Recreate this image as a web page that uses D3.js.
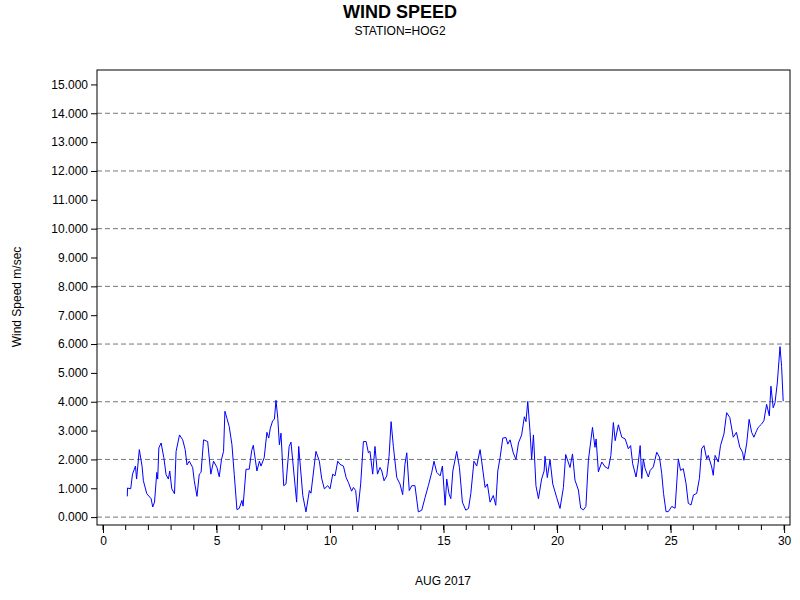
<!DOCTYPE html><html><head><script src="https://cdn.jsdelivr.net/npm/d3@7"></script>
<style>body{margin:0;background:#fff}</style></head><body><svg id="c" width="800" height="600"></svg><script>
const days=[1.07,1.08,1.22,1.3,1.43,1.48,1.6,1.72,1.78,1.93,2.12,2.19,2.27,2.37,2.41,2.46,2.56,2.68,2.78,2.88,2.94,3.03,3.15,3.22,3.37,3.51,3.62,3.7,3.8,3.95,4.02,4.14,4.24,4.32,4.43,4.61,4.75,4.87,5.02,5.12,5.22,5.31,5.37,5.46,5.56,5.68,5.78,5.9,6.0,6.12,6.17,6.3,6.44,6.55,6.62,6.78,6.89,6.96,7.1,7.22,7.3,7.37,7.47,7.55,7.62,7.7,7.77,7.84,7.96,8.06,8.2,8.28,8.42,8.53,8.62,8.8,8.94,9.09,9.16,9.38,9.53,9.63,9.75,9.9,10.0,10.12,10.22,10.34,
10.44,10.59,10.71,10.81,10.95,11.03,11.13,11.22,11.35,11.47,11.59,11.69,11.76,11.88,11.98,12.09,12.2,12.28,12.38,12.5,12.6,12.69,12.79,12.94,13.08,13.2,13.3,13.38,13.49,13.6,13.74,13.89,14.04,14.19,14.33,14.48,14.58,14.7,14.85,14.95,15.07,15.14,15.24,15.32,15.41,15.58,15.7,15.83,15.98,16.1,16.2,16.34,16.46,16.61,16.68,16.83,16.93,17.05,17.19,17.3,17.39,17.49,17.61,17.75,17.83,17.93,18.07,18.19,18.3,18.44,18.56,18.63,18.71,18.81,18.88,18.96,19.07,19.18,19.32,19.43,19.47,19.57,19.69,19.81,19.98,20.13,20.28,20.38,20.57,
20.68,20.79,20.94,21.04,21.16,21.27,21.38,21.56,21.67,21.72,21.82,21.97,22.12,22.26,22.37,22.48,22.56,22.7,22.85,23.0,23.14,23.24,23.33,23.48,23.58,23.66,23.73,23.8,23.88,24.02,24.1,24.24,24.39,24.51,24.61,24.69,24.8,24.9,25.05,25.2,25.34,25.44,25.56,25.68,25.78,25.9,26.01,26.15,26.27,26.37,26.47,26.59,26.66,26.81,26.88,26.96,27.1,27.2,27.35,27.47,27.61,27.76,27.9,28.05,28.17,28.23,28.35,28.46,28.57,28.67,28.79,28.86,29.0,29.11,29.23,29.35,29.42,29.52,29.6,29.7,29.82,29.89,29.96];
const speeds=[0.72,1.01,0.98,1.49,1.77,1.32,2.34,1.77,1.26,0.81,0.64,0.35,0.52,1.55,1.32,2.4,2.57,2.06,1.47,1.32,1.6,0.98,0.81,2.28,2.85,2.68,2.34,1.81,1.94,1.72,1.26,0.72,1.49,1.55,2.68,2.62,1.49,1.94,1.72,1.4,2.0,2.28,3.67,3.42,3.14,2.51,1.49,0.26,0.3,0.58,0.38,1.66,1.66,2.31,2.49,1.6,1.94,1.77,2.06,2.94,2.74,3.08,3.33,3.4,4.05,3.42,2.51,2.91,1.09,1.15,2.45,2.6,1.43,0.52,2.45,0.75,0.18,0.92,0.83,2.28,1.94,1.35,0.98,1.09,0.98,1.49,1.43,1.94,
1.83,1.77,1.37,1.2,0.9,1.03,0.92,0.18,1.15,2.62,2.62,2.23,2.28,1.49,2.45,1.49,1.72,1.6,1.26,1.43,2.11,3.31,2.45,1.37,1.15,0.78,1.83,2.23,0.92,1.09,1.09,0.18,0.24,0.69,1.09,1.55,1.94,1.55,1.43,1.77,0.41,1.32,0.81,0.64,1.6,2.28,1.72,0.52,0.24,0.3,0.81,1.94,1.77,2.34,1.94,1.03,1.15,0.52,0.75,0.41,1.6,2.06,2.74,2.76,2.53,2.68,2.23,2.0,2.57,2.85,3.48,3.31,4.01,2.97,2.0,2.85,1.09,0.64,1.32,1.6,2.11,1.37,2.0,1.15,0.69,0.3,1.03,2.17,1.72,
2.19,1.28,0.94,0.31,0.25,0.37,1.97,3.11,2.42,2.71,1.57,1.91,1.74,1.68,2.14,3.28,2.65,3.2,2.77,2.71,2.37,2.48,1.85,1.39,1.91,2.48,1.34,2.02,1.68,1.39,1.62,1.74,2.25,2.08,1.51,0.82,0.19,0.19,0.37,0.31,2.02,1.62,1.68,1.17,0.48,0.42,0.77,0.82,1.34,2.37,2.48,2.02,2.14,1.74,1.45,2.14,1.91,2.48,2.88,3.62,3.45,2.77,2.94,2.42,2.25,1.97,2.54,3.39,2.94,2.77,3.0,3.11,3.22,3.34,3.91,3.51,4.54,3.79,3.97,4.65,5.91,5.22,4.02];
const yTicks=d3.range(0,16);
const gridVals=d3.range(0,16,2);
const xTicks=[0,5,10,15,20,25,30];
const title="WIND SPEED", subtitle="STATION=HOG2", xLabel="AUG 2017", yLabel="Wind Speed m/sec";
const svg=d3.select("#c");
const L=97,R=790,T=70,B=525;
const x=d3.scaleLinear().domain([-0.264,30.26]).range([L,R]);
const y=d3.scaleLinear().domain([-0.273,15.5]).range([B,T]);
svg.append("text").attr("x",400).attr("y",18).attr("text-anchor","middle").attr("font-family","Liberation Sans, Arial").attr("font-weight","bold").attr("font-size",18).text(title);
svg.append("text").attr("x",400).attr("y",35).attr("text-anchor","middle").attr("font-family","Liberation Sans, Arial").attr("font-size",12).text(subtitle);
svg.append("g").selectAll("line").data(gridVals).join("line").attr("x1",L).attr("x2",R).attr("y1",d=>y(d)).attr("y2",d=>y(d)).attr("stroke","#777").attr("stroke-dasharray","5,3");
const ya=svg.append("g").attr("transform",`translate(${L},0)`).call(d3.axisLeft(y).tickValues(yTicks).tickFormat(d3.format(".3f")).tickSizeOuter(0).tickSize(6));
const xa=svg.append("g").attr("transform",`translate(0,${B})`).call(d3.axisBottom(x).tickValues(xTicks).tickFormat(d3.format("d")).tickSizeOuter(0).tickSize(8));
svg.append("g").attr("transform",`translate(0,${B})`).selectAll("line").data(d3.range(0,31)).join("line").attr("x1",d=>x(d)).attr("x2",d=>x(d)).attr("y1",0).attr("y2",5).attr("stroke","#000");
[ya,xa].forEach(a=>{a.selectAll("text").attr("font-family","Liberation Sans, Arial").attr("font-size",12).attr("fill","#000");a.select(".domain").remove();});
svg.append("rect").attr("x",L).attr("y",T).attr("width",R-L).attr("height",B-T).attr("fill","none").attr("stroke","#000");
svg.append("path").datum(days.map((d,i)=>[d,speeds[i]])).attr("fill","none").attr("stroke","#0000ff").attr("stroke-width",1)
 .attr("d",d3.line().x(d=>x(d[0])).y(d=>y(d[1])));
svg.append("text").attr("x",443).attr("y",585).attr("text-anchor","middle").attr("font-family","Liberation Sans, Arial").attr("font-size",12).text(xLabel);
svg.append("text").attr("transform","translate(21,297) rotate(-90)").attr("text-anchor","middle").attr("font-family","Liberation Sans, Arial").attr("font-size",12).text(yLabel);
</script></body></html>
